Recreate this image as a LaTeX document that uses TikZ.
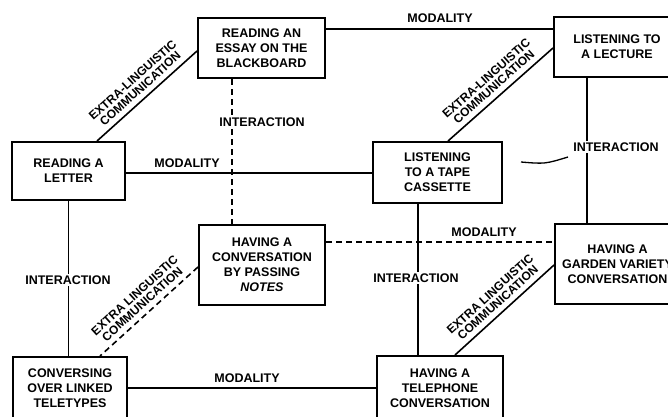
\documentclass[tikz,border=0pt]{standalone}
\usepackage{fontspec}
\setmainfont{Liberation Sans}
\usetikzlibrary{calc}
\begin{document}
\begin{tikzpicture}[x=1pt,y=-1pt,
  box/.style={draw, line width=2pt, font=\bfseries\fontsize{12.5}{15}\selectfont, align=center, inner sep=0pt},
  conn/.style={line width=1.6pt},
  dconn/.style={conn, dash pattern=on 6pt off 4pt},
  lab/.style={font=\bfseries\fontsize{12.5}{13}\selectfont, inner sep=1pt},
  vlab/.style={lab, fill=white, inner sep=2pt},
  dlab/.style={font=\bfseries\fontsize{12}{11.5}\selectfont, sloped, above=4pt, align=center, inner sep=1pt}]
\path[use as bounding box] (0,0) rectangle (668,416);
\clip (0,0) rectangle (668,416);

% boxes
\node[box, minimum width=127, minimum height=60] (essay) at (261.5,48) {READING AN\\ESSAY ON THE\\BLACKBOARD};
\node[box, minimum width=126, minimum height=60] (lecture) at (617,47) {LISTENING TO\\A LECTURE};
\node[box, minimum width=113, minimum height=58] (letter) at (68.5,171) {READING A\\LETTER};
\node[box, minimum width=129, minimum height=61] (cassette) at (437.5,172.5) {LISTENING\\TO A TAPE\\CASSETTE};
\node[box, minimum width=126, minimum height=80] (notes) at (262,265) {HAVING A\\CONVERSATION\\BY PASSING\\\textit{NOTES}};
\node[box, minimum width=125, minimum height=80] (garden) at (617.5,264) {HAVING A\\GARDEN VARIETY\\CONVERSATION};
\node[box, minimum width=114, minimum height=62] (teletypes) at (70,388) {CONVERSING\\OVER LINKED\\TELETYPES};
\node[box, minimum width=126, minimum height=64] (telephone) at (440,388) {HAVING A\\TELEPHONE\\CONVERSATION};

% modality (horizontal)
\draw[conn] ([yshift=19pt]essay.east) -- ([yshift=19pt]essay.east -| lecture.west);
\node[lab] (m1) at (440,18) {MODALITY};
\draw[conn] ([yshift=-2pt]letter.east) -- ([yshift=-2pt]letter.east -| cassette.west);
\node[lab] (m2) at (187,163) {MODALITY};
\draw[dconn] ([yshift=23pt]notes.east) -- ([yshift=23pt]notes.east -| garden.west);
\node[lab] (m3) at (484,232) {MODALITY};
\draw[conn] (teletypes.east) -- (teletypes.east -| telephone.west);
\node[lab] (m4) at (247,378) {MODALITY};

% interaction (vertical)
\draw[dconn] ([xshift=-29.5pt]essay.south) -- ([xshift=-29.5pt]essay.south |- notes.north);
\node[vlab] (i1) at (262,122) {INTERACTION};
\draw[conn] (letter.south) -- (letter.south |- teletypes.north);
\node[vlab] (i2) at (68,280) {INTERACTION};
\draw[conn] ([xshift=-30pt]lecture.south) -- ([xshift=-30pt]lecture.south |- garden.north);
\node[vlab] (i3) at (616,147) {INTERACTION};
\draw[conn] ([xshift=-19.5pt]cassette.south) -- ([xshift=-19.5pt]cassette.south |- telephone.north);
\node[vlab] (i4) at (416,278) {INTERACTION};

% extra-linguistic communication (diagonal)
\draw[conn] ([yshift=-3pt]essay.west) -- node[dlab] {EXTRA-LINGUISTIC\\COMMUNICATION} ([xshift=28.5pt]letter.north);
\draw[conn] ([yshift=-1pt]lecture.west) -- node[dlab] {EXTRA-LINGUISTIC\\COMMUNICATION} ([xshift=10.5pt]cassette.north);
\draw[dconn] ([yshift=-2pt]notes.west) -- node[dlab] {EXTRA LINGUISTIC\\COMMUNICATION} ([xshift=30pt]teletypes.north);
\draw[conn] ([yshift=-1pt]garden.west) -- node[dlab] {EXTRA LINGUISTIC\\COMMUNICATION} ([xshift=15pt]telephone.north);

% stray stroke
\draw[line width=1.3pt] (521,162) .. controls (545,164) .. (568,157);
\end{tikzpicture}
\end{document}
